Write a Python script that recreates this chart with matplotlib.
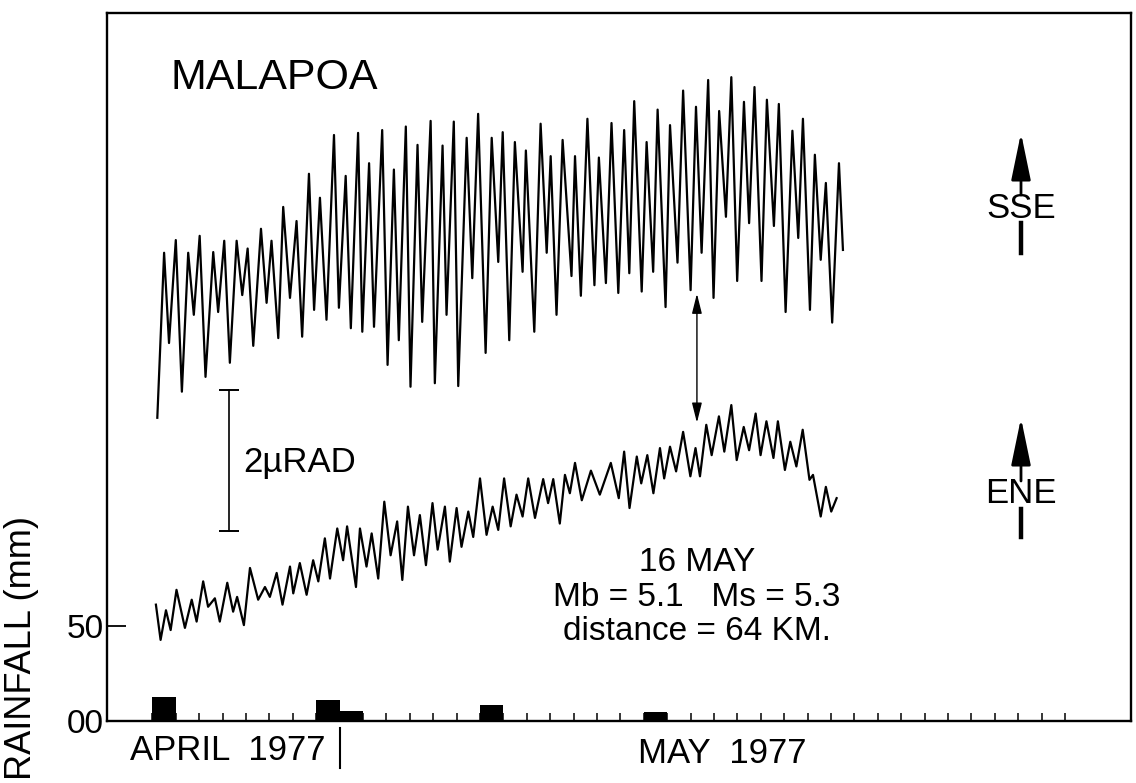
import matplotlib.pyplot as plt
from matplotlib.patches import FancyArrowPatch

W, H = 1136, 783

# time in days after 1 May 1977 00:00, tilt in microradians (offsets as plotted)
sse_day = [-7.79, -7.50, -7.29, -7.00, -6.74, -6.47, -6.23, -5.98, -5.73, -5.40,
           -5.19, -4.93, -4.69, -4.40, -4.16, -3.93, -3.69, -3.36, -3.12, -2.91,
           -2.62, -2.41, -2.12, -1.84, -1.60, -1.31, -1.09, -0.84, -0.56, -0.24,
           -0.03, 0.26, 0.48, 0.79, 0.97, 1.26, 1.47, 1.82, 2.05, 2.32,
           2.53, 2.83, 3.03, 3.33, 3.53, 3.89, 4.07, 4.40, 4.57, 4.88,
           5.07, 5.43, 5.67, 5.92, 6.24, 6.50, 6.78, 6.97, 7.25, 7.49,
           7.82, 7.96, 8.32, 8.59, 8.85, 9.02, 9.27, 9.53, 9.91, 10.06,
           10.31, 10.59, 10.89, 11.08, 11.38, 11.62, 11.91, 12.16, 12.38, 12.59,
           12.91, 13.12, 13.40, 13.59, 13.93, 14.12, 14.44, 14.68, 15.00, 15.23,
           15.47, 15.75, 15.98, 16.22, 16.51, 16.74, 16.99, 17.28, 17.50, 17.73,
           18.03, 18.26, 18.56, 18.77, 19.06, 19.35, 19.60, 19.80, 20.10, 20.31,
           20.56, 20.78, 21.05, 21.34, 21.51]
sse_tilt = [4.30, 6.64, 5.36, 6.82, 4.67, 6.64, 5.76, 6.88, 4.88, 6.65,
            5.80, 6.81, 5.08, 6.81, 6.04, 6.70, 5.32, 6.98, 5.93, 6.81,
            5.43, 7.29, 6.00, 7.09, 5.45, 7.76, 5.83, 7.42, 5.69, 8.31,
            5.86, 7.73, 5.57, 8.34, 5.52, 7.91, 5.59, 8.38, 5.05, 7.82,
            5.40, 8.43, 4.74, 8.17, 5.66, 8.51, 4.79, 8.16, 5.76, 8.50,
            4.75, 8.27, 6.28, 8.61, 5.22, 8.27, 6.51, 8.35, 5.40, 8.21,
            6.37, 8.09, 5.52, 8.47, 6.64, 8.01, 5.76, 8.24, 6.31, 8.01,
            6.03, 8.54, 6.18, 7.99, 6.21, 8.48, 6.07, 8.38, 6.35, 8.79,
            6.09, 8.21, 6.37, 8.67, 5.87, 8.45, 6.50, 8.94, 6.11, 8.71,
            6.64, 9.09, 6.00, 8.65, 7.15, 9.13, 6.24, 8.78, 7.06, 8.99,
            6.24, 8.81, 7.02, 8.75, 5.80, 8.37, 6.85, 8.54, 5.83, 8.03,
            6.54, 7.63, 5.65, 7.91, 6.68]

ene_day = [-7.85, -7.65, -7.42, -7.22, -6.97, -6.61, -6.32, -6.11, -5.83, -5.62,
           -5.33, -5.12, -4.80, -4.55, -4.38, -4.09, -3.83, -3.48, -3.19, -2.98,
           -2.69, -2.44, -2.12, -1.98, -1.70, -1.41, -1.13, -0.91, -0.63, -0.41,
           -0.10, 0.15, 0.32, 0.70, 0.87, 1.15, 1.37, 1.65, 1.91, 2.18,
           2.46, 2.68, 2.92, 3.18, 3.43, 3.69, 3.97, 4.19, 4.50, 4.71,
           5.00, 5.21, 5.50, 5.71, 6.00, 6.28, 6.54, 6.78, 7.03, 7.31,
           7.56, 7.82, 8.06, 8.35, 8.70, 8.91, 9.13, 9.41, 9.63, 9.84,
           10.06, 10.35, 10.74, 11.12, 11.59, 11.93, 12.16, 12.39, 12.70, 12.89,
           13.15, 13.41, 13.69, 13.87, 14.12, 14.38, 14.68, 14.99, 15.21, 15.40,
           15.67, 15.90, 16.21, 16.44, 16.74, 16.97, 17.27, 17.50, 17.78, 17.99,
           18.24, 18.54, 18.73, 19.03, 19.26, 19.52, 19.79, 20.08, 20.23, 20.56,
           20.78, 21.01, 21.24]
ene_tilt = [1.65, 1.15, 1.57, 1.29, 1.86, 1.32, 1.72, 1.41, 1.98, 1.62,
            1.74, 1.41, 1.96, 1.55, 1.76, 1.36, 2.17, 1.72, 1.90, 1.76,
            2.10, 1.65, 2.19, 1.81, 2.24, 1.79, 2.28, 1.98, 2.59, 2.02,
            2.73, 2.28, 2.76, 1.90, 2.73, 2.19, 2.66, 2.02, 3.11, 2.35,
            2.83, 2.00, 3.04, 2.35, 2.92, 2.21, 3.09, 2.43, 3.04, 2.26,
            3.02, 2.47, 2.97, 2.61, 3.44, 2.64, 3.04, 2.71, 3.44, 2.76,
            3.21, 2.90, 3.44, 2.88, 3.43, 3.09, 3.43, 2.80, 3.49, 3.23,
            3.66, 3.13, 3.55, 3.21, 3.66, 3.16, 3.82, 3.02, 3.75, 3.37,
            3.77, 3.23, 3.87, 3.44, 3.89, 3.54, 4.10, 3.47, 3.87, 3.47,
            4.20, 3.77, 4.32, 3.82, 4.48, 3.70, 4.17, 3.84, 4.36, 3.77,
            4.25, 3.73, 4.25, 3.56, 3.96, 3.61, 4.13, 3.42, 3.49, 2.90,
            3.32, 2.97, 3.16]

# daily rainfall (bar starts at the day boundary)
rain_day = [-8, -1, 0, 6, 13]
rain_mm = [12.5, 11.0, 5.5, 8.5, 4.5]

day_ticks = list(range(-8, 32))
rain_ticks = [0, 50]
rain_labels = ['00', '50']

quake_day = 15.27
quake_top, quake_bottom = 6.06, 4.23
scale_day, scale_base, scale_len = -4.72, 2.69, 2.0

plt.rcParams['font.family'] = ['Liberation Sans', 'DejaVu Sans']

fig = plt.figure(figsize=(W / 100, H / 100), dpi=100)
ax = fig.add_axes([107 / W, 1 - 721 / H, (1131 - 107) / W, (721 - 13) / H])
ax.set_xlim(-9.94, 33.82)
ax.set_ylim(0, 372.6)

ax.bar(rain_day, rain_mm, width=1, align='edge', color='black')
ax.set_xticks(day_ticks)
ax.set_xticklabels([])
ax.tick_params(axis='x', direction='in', length=6, width=1.1)
ax.set_yticks(rain_ticks)
ax.set_yticklabels(rain_labels)
ax.tick_params(axis='y', direction='in', length=14, width=1.3, labelsize=24, pad=2)
for s in ax.spines.values():
    s.set_linewidth(1.7)

# month boundary mark under the axis
ax.plot([0, 0], [-0.01, -0.066], transform=ax.get_xaxis_transform(),
        clip_on=False, color='black', lw=1.5)

ax2 = ax.twinx()
ax2.set_ylim(0, 10.04)
ax2.axis('off')
ax2.plot(sse_day, sse_tilt, color='black', lw=1.6, solid_joinstyle='round')
ax2.plot(ene_day, ene_tilt, color='black', lw=1.6, solid_joinstyle='round')

# 2 microradian scale bar
ax2.plot([scale_day, scale_day], [scale_base, scale_base + scale_len], color='black',
         lw=1.2, marker='_', ms=14, mew=1.4)

ax2.annotate('', xy=(quake_day, quake_bottom), xytext=(quake_day, quake_top),
             arrowprops=dict(arrowstyle='<|-|>,head_length=1.2,head_width=0.3',
                             lw=1, color='black', shrinkA=0, shrinkB=0,
                             mutation_scale=10))

def fx(x):
    return x / W

def fy(y):
    return 1 - y / H

fig.text(fx(170), fy(89), 'MALAPOA', fontsize=31, va='baseline', ha='left')
fig.text(fx(243), fy(472), '2\u00b5RAD', fontsize=25, va='baseline', ha='left')
fig.text(fx(697), fy(571), '16 MAY', fontsize=24, va='baseline', ha='center')
fig.text(fx(697), fy(606), 'Mb = 5.1   Ms = 5.3', fontsize=24, va='baseline', ha='center')
fig.text(fx(697), fy(640), 'distance = 64 KM.', fontsize=24, va='baseline', ha='center')
fig.text(fx(130), fy(760), 'APRIL  1977', fontsize=25, va='baseline', ha='left')
fig.text(fx(638), fy(763), 'MAY  1977', fontsize=25, va='baseline', ha='left')
fig.text(fx(22), fy(648), 'RAINFALL (mm)', fontsize=26, rotation=90,
         va='center', ha='center')

# component direction arrows
for name, y_text, y_tip, y_low in [('SSE', 208, 133, 253), ('ENE', 494, 418, 537)]:
    fig.text(fx(1021), fy(y_text), name, fontsize=25, va='center', ha='center')
    fig.add_artist(FancyArrowPatch((fx(1021), fy(y_text - 13)), (fx(1021), fy(y_tip)),
                                   transform=fig.transFigure, color='black', lw=2,
                                   arrowstyle='-|>,head_length=2.9,head_width=0.6',
                                   mutation_scale=10, shrinkA=0, shrinkB=0))
    fig.add_artist(plt.Line2D([fx(1021), fx(1021)], [fy(y_text + 15), fy(y_low)],
                              transform=fig.transFigure, color='black', lw=3.2))

fig.savefig('out.png', dpi=100)
